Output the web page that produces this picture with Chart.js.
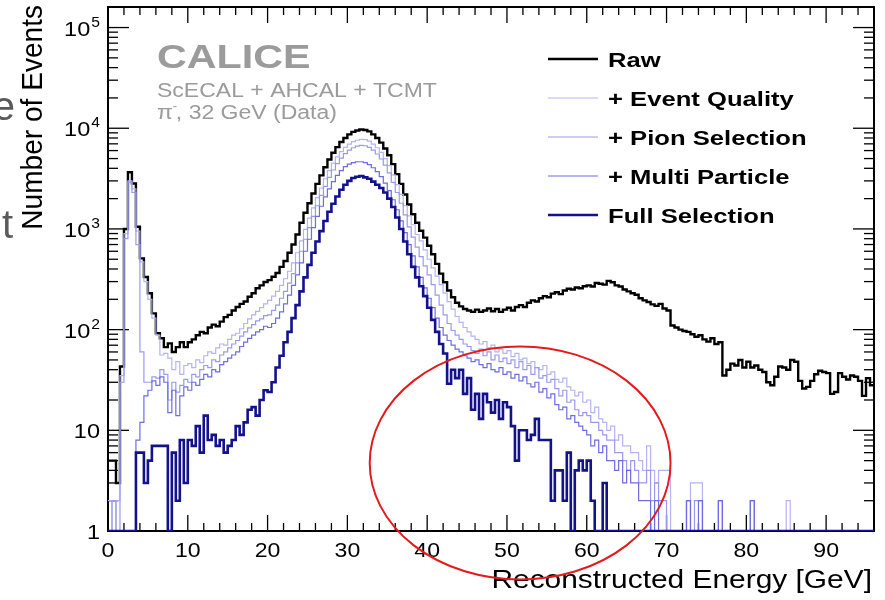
<!DOCTYPE html>
<html>
<head>
<meta charset="utf-8">
<script src="https://cdn.jsdelivr.net/npm/chart.js@4.4.0/dist/chart.umd.min.js"></script>
<style>
  html, body { margin: 0; padding: 0; background: #fff; }
  canvas { display: block; }
</style>
</head>
<body>
<canvas id="c" width="885" height="600"></canvas>
<script>
// histogram binning [GeV]
const binWidth = 0.5;
const energyMin = 0;
const energyMax = 96;
const countMin = 1;
const countMax = 1.6e5;

// counts per 0.5 GeV bin, one row = 10 GeV
const rawCounts = [
  5, 5, 3, 43, 1000, 3650, 2830, 1050, 510, 333, 230, 145, 92, 82, 67, 73, 60, 67, 75, 67,
  75, 80, 88, 95, 92, 105, 112, 108, 120, 133, 140, 155, 168, 180, 190, 212, 230, 258, 275, 297,
  310, 335, 365, 420, 480, 580, 700, 880, 1150, 1450, 1800, 2250, 2800, 3400, 4100, 4900, 5700, 6500, 7300, 8000,
  8700, 9200, 9500, 9700, 9600, 9300, 8700, 8000, 7200, 6300, 5400, 4400, 3500, 2800, 2200, 1750, 1400, 1150, 960, 820,
  680, 560, 450, 360, 295, 245, 210, 185, 170, 160, 155, 150, 158, 150, 155, 162, 152, 160, 150, 158,
  165, 155, 168, 175, 168, 185, 195, 190, 205, 215, 210, 228, 235, 225, 245, 255, 250, 262, 258, 270,
  275, 268, 290, 285, 280, 305, 295, 275, 268, 250, 240, 230, 222, 205, 195, 188, 178, 172, 180, 162,
  155, 110, 105, 100, 97, 95, 90, 85, 88, 80, 76, 82, 72, 75, 35, 40, 46, 44, 50, 42,
  48, 42, 44, 40, 38, 30, 28, 34, 43, 42, 40, 50, 48, 31, 26, 27, 31, 36, 39, 38,
  37, 23, 24, 37, 34, 32, 35, 34, 31, 22, 33, 28
];

const eventQualityCounts = [
  2, 1, 2, 35, 900, 3000, 2500, 950, 470, 300, 200, 130, 88, 56, 58, 52, 40, 48, 36, 44,
  46, 42, 50, 47, 55, 60, 58, 66, 72, 70, 80, 88, 92, 102, 115, 128, 140, 152, 165, 180,
  195, 215, 240, 275, 320, 380, 460, 580, 760, 990, 1280, 1620, 2050, 2550, 3150, 3800, 4500, 5200, 5850, 6450,
  6950, 7350, 7600, 7750, 7700, 7450, 6950, 6400, 5750, 5000, 4250, 3450, 2750, 2200, 1700, 1350, 1100, 880, 760, 620,
  500, 410, 340, 280, 230, 190, 160, 135, 118, 105, 95, 86, 80, 72, 76, 66, 70, 60, 64, 58,
  62, 54, 58, 50, 52, 46, 48, 42, 40, 44, 36, 38, 32, 30, 33, 27, 25, 22, 24, 19,
  20, 15, 17, 13, 12, 10, 11, 8, 9, 7, 7, 6, 6, 5, 4, 7, 4, 3, 4, 4,
  4, 1, 1, 0, 1, 2, 3, 3, 3, 1, 0, 1, 0, 2, 0, 0, 0, 1, 0, 0,
  0, 2, 0, 0, 0, 0, 0, 0, 0, 0, 2, 0, 0, 0, 0, 0, 0, 0, 0, 0,
  0, 0, 0, 0, 0, 0, 0, 0, 0, 0, 0, 0
];

const pionSelectionCounts = [
  1, 2, 1, 30, 800, 2900, 2300, 700, 60, 30, 30, 34, 33, 40, 36, 20, 30, 24, 28, 32,
  30, 36, 34, 40, 44, 42, 50, 48, 56, 60, 66, 72, 78, 86, 95, 104, 112, 122, 128, 138,
  140, 155, 175, 205, 240, 290, 360, 460, 600, 790, 1030, 1330, 1700, 2150, 2650, 3250, 3850, 4450, 5050, 5600,
  6050, 6400, 6650, 6750, 6700, 6450, 6050, 5550, 4950, 4300, 3600, 2900, 2300, 1800, 1380, 1050, 830, 660, 530, 430,
  350, 280, 220, 175, 140, 115, 98, 88, 80, 72, 68, 62, 58, 64, 55, 60, 50, 56, 48, 52,
  46, 50, 42, 48, 40, 44, 36, 42, 33, 35, 30, 32, 26, 22, 25, 19, 20, 16, 14, 15,
  14, 12, 12, 10, 9, 8, 8, 6, 6, 5, 4, 5, 4, 3, 3, 4, 2, 3, 2, 2,
  1, 0, 0, 0, 0, 2, 0, 2, 2, 0, 0, 0, 0, 2, 0, 0, 0, 0, 0, 0,
  0, 2, 0, 0, 0, 0, 0, 0, 0, 0, 0, 0, 0, 0, 0, 0, 0, 0, 0, 0,
  0, 0, 0, 0, 0, 0, 0, 0, 0, 0, 0, 0
];

const multiParticleCounts = [
  0, 0, 0, 0, 0, 0, 0, 8, 12, 22, 25, 31, 28, 34, 30, 15, 25, 14, 22, 27,
  25, 30, 28, 32, 36, 34, 40, 38, 45, 48, 52, 56, 60, 68, 75, 82, 88, 95, 100, 108,
  105, 115, 130, 150, 180, 220, 275, 350, 460, 600, 790, 1030, 1330, 1680, 2080, 2500, 2950, 3400, 3800, 4150,
  4400, 4550, 4650, 4650, 4550, 4350, 4050, 3700, 3300, 2850, 2400, 1950, 1550, 1200, 920, 700, 540, 420, 330, 260,
  205, 165, 130, 105, 88, 78, 70, 64, 60, 55, 52, 48, 50, 45, 42, 46, 40, 38, 42, 36,
  38, 33, 36, 31, 34, 29, 27, 30, 24, 26, 21, 23, 18, 16, 17, 13, 14, 12, 11, 10,
  9, 7, 8, 6, 7, 5, 5, 4, 5, 3, 4, 3, 3, 2, 2, 2, 1, 2, 0, 0,
  0, 0, 0, 0, 0, 2, 0, 0, 2, 0, 0, 0, 0, 2, 0, 0, 0, 0, 0, 0,
  0, 2, 0, 0, 0, 0, 0, 0, 0, 0, 0, 0, 0, 0, 0, 0, 0, 0, 0, 0,
  0, 0, 0, 0, 0, 0, 0, 0, 0, 0, 0, 0
];

const fullSelectionCounts = [
  0, 0, 0, 0, 0, 0, 0, 6, 6, 3, 5, 7, 7, 7, 7, 0, 6, 2, 8, 3,
  8, 7, 11, 6, 14, 8, 9, 7, 8, 6, 7, 8, 11, 9, 12, 16, 17, 14, 20, 25,
  24, 30, 42, 55, 75, 95, 130, 175, 240, 330, 440, 580, 750, 950, 1200, 1480, 1780, 2100, 2450, 2750,
  3000, 3200, 3300, 3350, 3250, 3150, 2950, 2750, 2550, 2300, 2000, 1650, 1300, 1000, 750, 560, 420, 330, 270, 215,
  165, 125, 95, 72, 58, 29, 40, 33, 40, 23, 33, 16, 23, 13, 23, 19, 15, 20, 13, 19,
  17, 11, 5, 10, 10, 8, 9, 13, 8, 8, 8, 2, 4, 4, 2, 6, 0, 4, 5, 4,
  5, 2, 0, 0, 3, 0, 0, 0, 0, 0, 0, 0, 0, 0, 0, 0, 0, 0, 0, 0,
  0, 0, 0, 0, 0, 0, 0, 0, 0, 0, 0, 0, 0, 0, 0, 0, 0, 0, 0, 0,
  0, 0, 0, 0, 0, 0, 0, 0, 0, 0, 0, 0, 0, 0, 0, 0, 0, 0, 0, 0,
  0, 0, 0, 0, 0, 0, 0, 0, 0, 0, 0, 0
];

const seriesLabels = ["Raw", "+ Event Quality", "+ Pion Selection", "+ Multi Particle", "Full Selection"];
const xTickLabels = [0, 10, 20, 30, 40, 50, 60, 70, 80, 90];
const yTickDecades = [0, 1, 2, 3, 4, 5];

const seriesColors = ["#000000", "#b4b4f3", "#9a9aeb", "#6c6ce3", "#12128a"];
const seriesWidths = [2.4, 1.2, 1.2, 1.2, 2.6];

const FONT = '"Liberation Sans", Arial, Helvetica, sans-serif';

// histogram -> step points on the bin edges; empty bins sit on the axis floor like in ROOT
function toSteps(counts) {
  const pts = counts.map((v, i) => ({ x: energyMin + i * binWidth, y: Math.max(v, countMin) }));
  pts.push({ x: energyMin + counts.length * binWidth, y: Math.max(counts[counts.length - 1], countMin) });
  return pts;
}

// text with a small horizontal stretch, like the exported ROOT canvas
function txt(ctx, s, x, y, font, align, sx, color) {
  ctx.save();
  ctx.font = font;
  ctx.fillStyle = color || "#000";
  ctx.textAlign = "left";
  ctx.textBaseline = "alphabetic";
  const w = ctx.measureText(s).width * sx;
  const x0 = align === "right" ? x - w : align === "center" ? x - w / 2 : x;
  ctx.translate(x0, y);
  ctx.scale(sx, 1);
  ctx.fillText(s, 0, 0);
  ctx.restore();
  return w;
}

function seg(ctx, x1, y1, x2, y2) {
  ctx.beginPath();
  ctx.moveTo(x1, y1);
  ctx.lineTo(x2, y2);
  ctx.stroke();
}

const rootStyle = {
  id: "rootStyle",
  beforeDraw(chart) {
    const ctx = chart.ctx;
    ctx.save();
    ctx.fillStyle = "#fff";
    ctx.fillRect(0, 0, chart.width, chart.height);
    ctx.restore();
  },
  // frame and ticks go under the histograms, as in ROOT
  beforeDatasetsDraw(chart) {
    const ctx = chart.ctx;
    const a = chart.chartArea;
    const xs = chart.scales.x;
    const ys = chart.scales.y;
    ctx.save();
    ctx.strokeStyle = "#000";
    ctx.lineWidth = 1.3;
    for (let v = energyMin; v <= energyMax; v += 2) {
      const px = xs.getPixelForValue(v);
      const len = v % 10 === 0 ? 16 : 8;
      seg(ctx, px, a.bottom, px, a.bottom - len);
      seg(ctx, px, a.top, px, a.top + len);
    }
    for (let e = 0; e <= 5; e++) {
      for (let m = 1; m <= 9; m++) {
        const v = m * Math.pow(10, e);
        if (v > countMax) break;
        const py = ys.getPixelForValue(v);
        const len = m === 1 ? 21 : 10;
        seg(ctx, a.left, py, a.left + len, py);
        seg(ctx, a.right, py, a.right - len, py);
      }
    }
    ctx.lineWidth = 2;
    ctx.strokeRect(a.left, a.top, a.right - a.left, a.bottom - a.top);
    ctx.restore();
  },
  afterDraw(chart) {
    const ctx = chart.ctx;
    const a = chart.chartArea;
    const xs = chart.scales.x;
    const ys = chart.scales.y;
    ctx.save();

    // x tick labels
    xTickLabels.forEach(v => {
      txt(ctx, String(v), xs.getPixelForValue(v), a.bottom + 26, "21px " + FONT, "center", 1.1);
    });

    // y tick labels (powers of ten)
    yTickDecades.forEach(e => {
      const py = ys.getPixelForValue(Math.pow(10, e)) + 8;
      const xr = a.left - 8;
      if (e === 0) txt(ctx, "1", xr, py, "21px " + FONT, "right", 1.12);
      else if (e === 1) txt(ctx, "10", xr, py, "21px " + FONT, "right", 1.12);
      else {
        const we = txt(ctx, String(e), xr, py - 9, "14px " + FONT, "right", 1.12);
        txt(ctx, "10", xr - we - 1, py, "21px " + FONT, "right", 1.12);
      }
    });

    // axis titles
    txt(ctx, "Reconstructed Energy [GeV]", a.right - 2, 588, "26px " + FONT, "right", 1.15);
    ctx.save();
    ctx.translate(42, 5);
    ctx.rotate(-Math.PI / 2);
    ctx.scale(1.08, 1.13);
    ctx.font = "26px " + FONT;
    ctx.fillStyle = "#000";
    ctx.textAlign = "right";
    ctx.fillText("Number of Events", 0, 0);
    ctx.restore();

    // CALICE label
    const grey = "#9b9b9b";
    txt(ctx, "CALICE", 157, 68, "bold 33px " + FONT, "left", 1.25, grey);
    txt(ctx, "ScECAL + AHCAL + TCMT", 157, 97, "20px " + FONT, "left", 1.15, grey);
    let wx = 157;
    wx += txt(ctx, "\u03c0", wx, 119, "20px " + FONT, "left", 1.15, grey);
    txt(ctx, "-", wx, 110, "12px " + FONT, "left", 1.1, grey);
    txt(ctx, ", 32 GeV (Data)", wx + 3, 119, "20px " + FONT, "left", 1.15, grey);

    // legend
    seriesLabels.forEach((label, i) => {
      const ly = 59 + i * 39;
      ctx.strokeStyle = seriesColors[i];
      ctx.lineWidth = seriesWidths[i];
      seg(ctx, 548, ly, 598, ly);
      txt(ctx, label, 608, ly + 8, "bold 21px " + FONT, "left", 1.22);
    });

    // cut-off letters at the left edge of the slide
    txt(ctx, "e", 15, 120, "40px " + FONT, "right", 1, "#5a5a5a");
    txt(ctx, "t", 13, 238, "40px " + FONT, "right", 1, "#5a5a5a");

    // red annotation ellipse over the high-energy tail
    const ex1 = xs.getPixelForValue(32.8), ex2 = xs.getPixelForValue(70.5);
    const ey1 = ys.getPixelForValue(68), ey2 = ys.getPixelForValue(0.33);
    ctx.strokeStyle = "#e41a1c";
    ctx.lineWidth = 2;
    ctx.beginPath();
    ctx.ellipse((ex1 + ex2) / 2, (ey1 + ey2) / 2, (ex2 - ex1) / 2, (ey2 - ey1) / 2, 0, 0, Math.PI * 2);
    ctx.stroke();

    ctx.restore();
  }
};

const allCounts = [rawCounts, eventQualityCounts, pionSelectionCounts, multiParticleCounts, fullSelectionCounts];

new Chart(document.getElementById("c").getContext("2d"), {
  type: "line",
  data: {
    datasets: allCounts.map((counts, i) => ({
      label: seriesLabels[i],
      data: toSteps(counts),
      borderColor: seriesColors[i],
      borderWidth: seriesWidths[i],
      stepped: true,
      fill: false,
      pointRadius: 0,
      borderJoinStyle: "miter",
      order: allCounts.length - i
    }))
  },
  options: {
    responsive: false,
    animation: false,
    layout: { padding: { left: 108, top: 7, right: 11, bottom: 69 } },
    plugins: { legend: { display: false }, tooltip: { enabled: false } },
    scales: {
      x: { type: "linear", min: energyMin, max: energyMax, display: false },
      y: { type: "logarithmic", min: countMin, max: countMax, display: false }
    }
  },
  plugins: [rootStyle]
});
</script>
</body>
</html>
